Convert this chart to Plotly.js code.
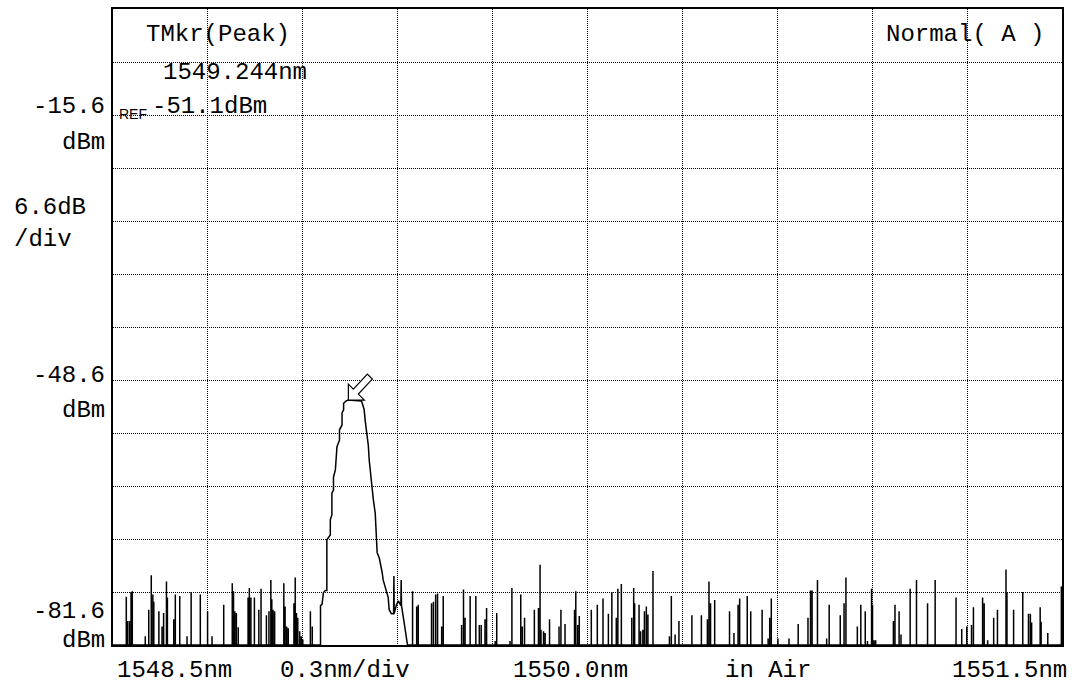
<!DOCTYPE html>
<html>
<head>
<meta charset="utf-8">
<script src="https://cdn.plot.ly/plotly-3.0.1.min.js"></script>
<style>
  html, body { margin: 0; padding: 0; background: #fff; }
  #osa { width: 1075px; height: 688px; }
</style>
</head>
<body>
<div id="osa"></div>
<script>
// ---- Sweep span and level scale ----
const startNm = 1548.5;
const stopNm = 1551.5;
const centerNm = 1550.0;
const nmPerDiv = 0.3;
const refDbm = -15.6;
const dbPerDiv = 6.6;
const bottomDbm = -81.6;
const topDbm = -2.4;

// ---- Trace marker (peak search) ----
const markerNm = 1549.244;
const markerDbm = -51.1;

// ---- Noise spikes rising from the bottom of the display (nm, dBm) ----
const spikeNm = [
  1548.542, 1548.546, 1548.552, 1548.557, 1548.561, 1548.602, 1548.613, 1548.621, 1548.626, 1548.629,
  1548.645, 1548.655, 1548.660, 1548.669, 1548.672, 1548.692, 1548.697, 1548.711, 1548.734, 1548.747,
  1548.776, 1548.799, 1548.813, 1548.850, 1548.877, 1548.881, 1548.885, 1548.890, 1548.896, 1548.927,
  1548.931, 1548.936, 1548.947, 1548.961, 1548.968, 1548.985, 1548.993, 1548.999, 1549.002, 1549.006,
  1549.011, 1549.040, 1549.044, 1549.049, 1549.054, 1549.072, 1549.076, 1549.080, 1549.084, 1549.090,
  1549.095, 1549.100, 1549.124, 1549.130,
  1549.447, 1549.460, 1549.465, 1549.507, 1549.513, 1549.520, 1549.526, 1549.539, 1549.544, 1549.602,
  1549.608, 1549.613, 1549.629, 1549.647, 1549.658, 1549.664, 1549.676, 1549.681, 1549.708, 1549.713,
  1549.755, 1549.761, 1549.789, 1549.794, 1549.801, 1549.832, 1549.845, 1549.850, 1549.853, 1549.861,
  1549.866, 1549.880, 1549.910, 1549.916, 1549.929, 1549.959, 1549.963, 1549.969, 1549.974,
  1550.012, 1550.031, 1550.049, 1550.066, 1550.077, 1550.091, 1550.096, 1550.107, 1550.140, 1550.146,
  1550.149, 1550.163, 1550.168, 1550.175, 1550.180, 1550.186, 1550.191, 1550.207, 1550.259, 1550.265,
  1550.277, 1550.289, 1550.330, 1550.360, 1550.379, 1550.384, 1550.389, 1550.402, 1550.449, 1550.463,
  1550.476, 1550.481, 1550.505, 1550.516, 1550.552, 1550.571, 1550.576, 1550.581, 1550.602, 1550.637,
  1550.666, 1550.697, 1550.705, 1550.710, 1550.727,
  1550.756, 1550.764, 1550.799, 1550.811, 1550.817, 1550.853, 1550.864, 1550.878, 1550.885, 1550.898,
  1550.901, 1550.906, 1550.911, 1550.967, 1550.972, 1550.985, 1550.991, 1551.020, 1551.040, 1551.075,
  1551.099, 1551.165, 1551.183, 1551.199, 1551.214, 1551.220, 1551.249, 1551.254, 1551.265, 1551.284,
  1551.296, 1551.323, 1551.326, 1551.347, 1551.376, 1551.394, 1551.400, 1551.404, 1551.431, 1551.434,
  1551.455, 1551.498
];
const spikeDbm = [
  -75.6, -78.6, -78.6, -75.0, -74.9, -80.5, -77.2, -72.9, -75.3, -76.2,
  -77.4, -79.3, -77.6, -73.7, -75.7, -78.4, -75.3, -75.5, -80.5, -75.0,
  -75.3, -77.4, -80.5, -76.6, -73.9, -74.9, -77.4, -77.6, -79.4, -75.7,
  -74.5, -75.7, -75.7, -77.2, -74.6, -77.9, -77.4, -73.5, -75.9, -77.2,
  -77.4, -73.9, -76.8, -79.3, -79.5, -76.4, -73.2, -77.6, -78.2, -79.9,
  -80.5, -80.9, -77.4, -79.3,
  -74.9, -76.8, -76.6, -76.4, -76.2, -75.3, -75.2, -79.3, -75.5, -79.1,
  -74.7, -78.2, -75.5, -75.5, -79.1, -79.1, -78.4, -77.0, -81.1, -77.6,
  -81.1, -74.5, -75.3, -79.3, -78.2, -77.2, -77.0, -71.6, -79.7, -79.9,
  -80.1, -78.4, -79.3, -77.2, -79.0, -77.2, -74.9, -79.1, -78.0,
  -77.2, -76.6, -75.8, -77.7, -75.0, -78.2, -74.6, -74.0, -78.2, -74.5,
  -76.4, -76.6, -79.9, -79.7, -77.4, -76.8, -77.8, -72.4, -80.5, -75.5,
  -80.3, -78.6, -77.9, -77.9, -78.4, -73.7, -76.4, -76.0, -77.4, -80.1,
  -76.6, -75.8, -75.5, -77.4, -77.2, -80.8, -78.2, -75.8, -80.8, -80.8,
  -79.0, -78.2, -74.8, -74.8, -73.5,
  -80.8, -76.6, -77.9, -76.4, -73.2, -79.3, -76.6, -77.4, -81.1, -74.6,
  -76.6, -81.0, -81.0, -78.6, -76.6, -77.4, -80.3, -74.6, -73.5, -76.4,
  -73.5, -75.7, -79.6, -79.3, -79.1, -76.9, -75.7, -76.4, -81.0, -78.2,
  -77.2, -72.2, -75.1, -77.2, -75.0, -77.7, -77.7, -78.8, -76.9, -78.7,
  -80.1, -74.3
];

// ---- Signal profile around the peak (nm, dBm) ----
const lineNm = [
  1549.156, 1549.156, 1549.161, 1549.165, 1549.171, 1549.176, 1549.176, 1549.187, 1549.187, 1549.192,
  1549.192, 1549.197, 1549.197, 1549.203, 1549.208, 1549.216, 1549.216, 1549.224, 1549.224, 1549.229,
  1549.229, 1549.237, 1549.244, 1549.285, 1549.288, 1549.294, 1549.297, 1549.301, 1549.307, 1549.310,
  1549.316, 1549.323, 1549.329, 1549.332, 1549.335, 1549.342, 1549.345, 1549.351, 1549.354, 1549.361,
  1549.364, 1549.370, 1549.373, 1549.380, 1549.387, 1549.388, 1549.389, 1549.396, 1549.402, 1549.410,
  1549.411, 1549.412, 1549.418, 1549.425, 1549.431
];
const lineDbm = [
  -81.6, -76.7, -76.5, -75.1, -74.8, -74.8, -68.5, -67.9, -66.0, -65.4,
  -62.7, -62.3, -60.7, -59.8, -56.9, -56.1, -54.8, -54.2, -52.7, -52.3,
  -51.5, -51.2, -51.1, -51.2, -51.5, -52.3, -53.6, -54.8, -56.7, -58.6,
  -61.0, -63.5, -65.2, -67.3, -70.1, -70.8, -71.3, -72.6, -73.5, -74.5,
  -75.0, -75.7, -77.2, -77.7, -77.7, -73.0, -77.7, -76.6, -76.1, -76.7,
  -73.5, -76.7, -78.2, -80.1, -81.6
];

// ---- Assemble the single trace polyline ----
const pieces = [];
spikeNm.forEach((w, i) => {
  pieces.push({ w: w, pts: [[w, bottomDbm], [w, spikeDbm[i]], [w, bottomDbm]] });
});
pieces.push({ w: lineNm[0], pts: lineNm.map((w, i) => [w, lineDbm[i]]) });
pieces.sort((a, b) => a.w - b.w);

const traceX = [startNm];
const traceY = [bottomDbm];
pieces.forEach(p => p.pts.forEach(([x, y]) => { traceX.push(x); traceY.push(y); }));
traceX.push(stopNm);
traceY.push(bottomDbm);

// ---- Plot geometry (pixels) used for text placement ----
const W = 1075, H = 688;
const M = { l: 113, r: 13, t: 9, b: 43 };
const plotW = W - M.l - M.r;
const plotH = H - M.t - M.b;
const px = x => (x - M.l) / plotW;
const py = y => (H - M.b - y) / plotH;

const FONT = 'Liberation Mono, DejaVu Sans Mono, monospace';
const FS = 24;

function label(text, x, y, anchor, size, family) {
  return {
    text: text, xref: 'paper', yref: 'paper',
    x: px(x), y: py(y), xanchor: anchor, yanchor: 'middle',
    showarrow: false, borderpad: 0,
    font: { family: family || FONT, size: size || FS, color: '#000' }
  };
}

const fmt1 = v => v.toFixed(1);
const midDbm = refDbm - 5 * dbPerDiv;

const annotations = [
  // level scale on the left
  label(fmt1(refDbm), 106, 107, 'right'),
  label('dBm', 106, 142, 'right'),
  label(fmt1(dbPerDiv) + 'dB', 13, 207, 'left'),
  label('/div', 13, 239, 'left'),
  label(fmt1(midDbm), 106, 375, 'right'),
  label('dBm', 106, 410, 'right'),
  label(fmt1(bottomDbm), 106, 611, 'right'),
  label('dBm', 106, 640, 'right'),
  // marker readout
  label('TMkr(Peak)', 145, 35, 'left'),
  label(markerNm.toFixed(3) + 'nm', 162, 72, 'left'),
  label(fmt1(markerDbm) + 'dBm', 151, 106, 'left'),
  label('REF', 118, 114, 'left', 14, 'Liberation Sans, Arial, sans-serif'),
  label('Normal( A )', 885, 35, 'left'),
  // wavelength scale along the bottom
  label(fmt1(startNm) + 'nm', 116, 670, 'left'),
  label(nmPerDiv + 'nm/div', 279, 670, 'left'),
  label(fmt1(centerNm) + 'nm', 512, 670, 'left'),
  label('in Air', 724, 670, 'left'),
  label(fmt1(stopNm) + 'nm', 1068, 670, 'right')
];

const gridDash = '1px,1px';

const layout = {
  width: W, height: H,
  margin: M,
  paper_bgcolor: '#fff',
  plot_bgcolor: '#fff',
  showlegend: false,
  xaxis: {
    range: [startNm, stopNm],
    tick0: startNm, dtick: nmPerDiv,
    showticklabels: false, ticks: '',
    showgrid: true, gridcolor: '#000', gridwidth: 1, griddash: gridDash,
    zeroline: false,
    showline: true, mirror: true, linecolor: '#000', linewidth: 2
  },
  yaxis: {
    range: [bottomDbm, topDbm],
    tick0: bottomDbm, dtick: dbPerDiv,
    showticklabels: false, ticks: '',
    showgrid: true, gridcolor: '#000', gridwidth: 1, griddash: gridDash,
    zeroline: false,
    showline: true, mirror: true, linecolor: '#000', linewidth: 2
  },
  annotations: annotations,
  shapes: [
    // hollow marker arrow pointing at the peak
    {
      type: 'path', xref: 'x', yref: 'y',
      xsizemode: 'pixel', ysizemode: 'pixel',
      xanchor: markerNm, yanchor: markerDbm,
      path: 'M0,0 L0,16 L5,11 L19,26 L24,21 L10,6 L16,0 Z',
      fillcolor: '#fff',
      line: { color: '#000', width: 1.2 },
      layer: 'above'
    }
  ]
};

const data = [{
  type: 'scatter', mode: 'lines',
  x: traceX, y: traceY,
  line: { color: '#000', width: 1.5 },
  hoverinfo: 'skip'
}];

Plotly.newPlot('osa', data, layout, { staticPlot: true, displayModeBar: false });
</script>
</body>
</html>
